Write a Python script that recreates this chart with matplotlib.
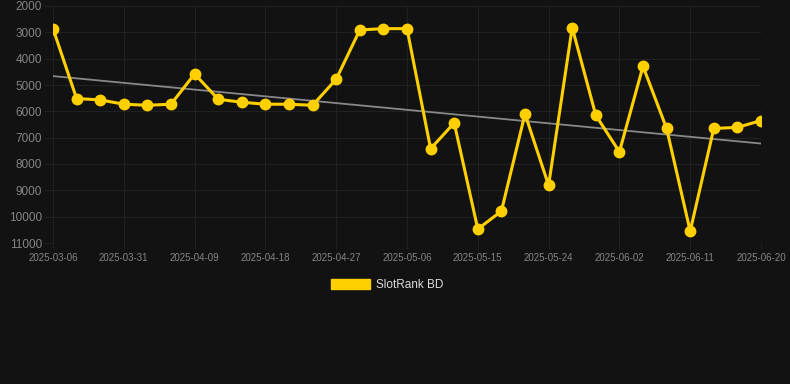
import numpy as np
import matplotlib.pyplot as plt
from matplotlib.patches import Patch

dates = ["2025-03-06", "2025-03-25", "2025-03-28", "2025-03-31", "2025-04-03",
         "2025-04-06", "2025-04-09", "2025-04-12", "2025-04-15", "2025-04-18",
         "2025-04-21", "2025-04-24", "2025-04-27", "2025-04-30", "2025-05-03",
         "2025-05-06", "2025-05-09", "2025-05-12", "2025-05-15", "2025-05-18",
         "2025-05-21", "2025-05-24", "2025-05-27", "2025-05-30", "2025-06-02",
         "2025-06-05", "2025-06-08", "2025-06-11", "2025-06-14", "2025-06-17",
         "2025-06-20"]
ranks = [2860, 5515, 5565, 5730, 5770, 5730, 4580, 5540, 5655, 5730,
         5730, 5770, 4780, 2910, 2860, 2860, 7420, 6440, 10470, 9790,
         6100, 8810, 2820, 6150, 7540, 4290, 6650, 10550, 6650, 6610,
         6350]
series_name = "SlotRank BD"

bg = "#121212"
gold = "#FFD000"
grid_col = "#212121"

plt.rcParams["font.family"] = ["Liberation Sans", "DejaVu Sans"]

fig = plt.figure(figsize=(7.9, 3.84), dpi=100, facecolor=bg)
ax = fig.add_axes([53 / 790, 1 - 243 / 384, (761 - 53) / 790, (243 - 6) / 384])
ax.set_facecolor(bg)

x = np.arange(len(dates))
ax.plot(x, ranks, color=gold, lw=2.2, marker="o", ms=7.5, zorder=3)

# trend line (least squares)
k, b = np.polyfit(x, ranks, 1)
ax.plot(x, k * x + b, color="#888888", lw=1.3, zorder=2)

ax.set_xlim(0, len(dates) - 1)
ax.set_ylim(11000, 2000)
ax.set_yticks(range(2000, 11001, 1000))
ax.set_xticks(x[::3])
ax.set_xticklabels(dates[::3])

ax.grid(True, color=grid_col, lw=0.8)
for s in ax.spines.values():
    s.set_visible(False)
ax.tick_params(axis="y", length=6.5, width=0.8, color=grid_col, labelsize=8.5,
               labelcolor="#858585", pad=1.5)
ax.tick_params(axis="x", length=4, width=0.8, color=grid_col, labelsize=7,
               labelcolor="#858585", pad=3)

leg = fig.legend(handles=[Patch(color=gold, label=series_name)],
                 loc="center", bbox_to_anchor=(0.49, 1 - 285 / 384),
                 frameon=False, fontsize=8.5, handlelength=3.3, handleheight=0.9,
                 handletextpad=0.5)
for t in leg.get_texts():
    t.set_color("#dddddd")

fig.savefig("out.png", dpi=100, facecolor=bg)
